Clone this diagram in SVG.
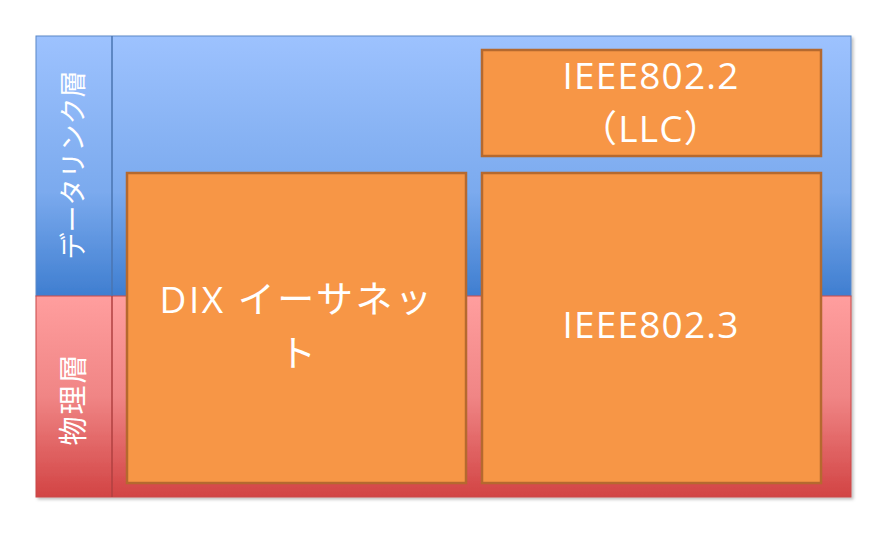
<svg xmlns="http://www.w3.org/2000/svg" width="893" height="558" viewBox="0 0 893 558">
<defs>
<linearGradient id="gb" x1="0" y1="0" x2="0" y2="1">
<stop offset="0" stop-color="#9DC2FE"/>
<stop offset="0.6" stop-color="#7BAAEE"/>
<stop offset="1" stop-color="#3F7ED0"/>
</linearGradient>
<linearGradient id="gr" x1="0" y1="0" x2="0" y2="1">
<stop offset="0" stop-color="#FF9E9E"/>
<stop offset="0.5" stop-color="#F08585"/>
<stop offset="1" stop-color="#D24444"/>
</linearGradient>
<filter id="sh" x="-5%" y="-5%" width="110%" height="110%">
<feDropShadow dx="2" dy="2" stdDeviation="1.5" flood-color="#000" flood-opacity="0.25"/>
</filter>
</defs>
<style>
.box{fill:#F79646;stroke:#B5692F;stroke-width:2.5}
.t{font-family:"Open Sans","Noto Sans CJK JP",sans-serif;fill:#fff;font-size:37px;letter-spacing:1.2px;text-anchor:middle}
.lt{font-family:"Noto Sans CJK JP",sans-serif;fill:#fff;font-size:27px;text-anchor:middle}
</style>
<rect width="893" height="558" fill="#fff"/>
<g id="bands" filter="url(#sh)">
<rect x="36" y="36" width="815" height="260" fill="url(#gb)" stroke="#5A88C8" stroke-width="1"/>
<rect x="36" y="296" width="815" height="201" fill="url(#gr)" stroke="#C84848" stroke-width="1"/>
</g>
<g id="divider">
<line x1="112" y1="36" x2="112" y2="296" stroke="#4A74B0" stroke-width="1.5"/>
<line x1="112" y1="296" x2="112" y2="497" stroke="#B04040" stroke-width="1.5"/>
</g>
<g id="label-datalink">
<text class="lt" transform="translate(83,165) rotate(-90)">データリンク層</text>
</g>
<g id="label-physical">
<text class="lt" style="font-size:29px;letter-spacing:2px" transform="translate(84,399) rotate(-90)">物理層</text>
</g>
<g id="dix">
<rect class="box" x="127" y="173" width="339" height="310"/>
<text class="t" style="letter-spacing:2.5px" x="297" y="313">DIX イーサネッ</text>
<text class="t" x="298" y="367">ト</text>
</g>
<g id="ieee8023">
<rect class="box" x="482" y="173" width="339" height="310"/>
<text class="t" x="651" y="338">IEEE802.3</text>
</g>
<g id="ieee8022">
<rect class="box" x="482" y="50" width="339" height="106"/>
<text class="t" x="651" y="89">IEEE802.2</text>
<text class="t" x="651" y="142">（LLC）</text>
</g>
<g id="connectors"/>
</svg>
